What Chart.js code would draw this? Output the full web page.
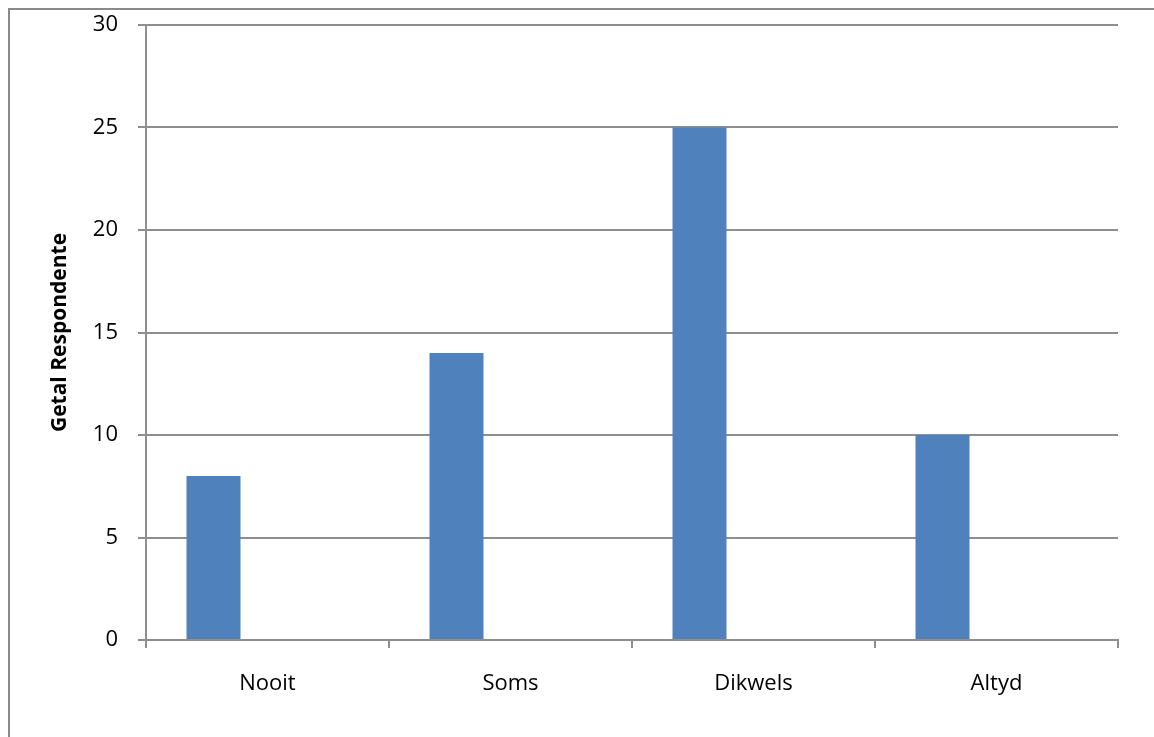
<!DOCTYPE html>
<html>
<head>
<meta charset="utf-8">
<script src="https://cdn.jsdelivr.net/npm/chart.js@4"></script>
<style>
    html, body { margin: 0; padding: 0; background: #fff; overflow: hidden; }
    #wrap { width: 1154px; height: 737px; position: relative; }
</style>
</head>
<body>
<div id="wrap"><canvas id="chart" width="1154" height="737"></canvas></div>
<script>
// Datos del gráfico
const categories = ['Nooit', 'Soms', 'Dikwels', 'Altyd'];
const respondents = [8, 14, 25, 10];
const emptySeries = [null, null, null, null];
const yTitle = 'Getal Respondente';

const gridColor = '#8e8e8e';
const fontFamily = '"Open Sans", "Liberation Sans", sans-serif';

// Marco exterior (solo se ven los bordes izquierdo y superior)
const framePlugin = {
    id: 'frame',
    beforeDraw(chart) {
        const ctx = chart.ctx;
        ctx.save();
        ctx.strokeStyle = '#8a8a8a';
        ctx.lineWidth = 2;
        ctx.strokeRect(9, 9, 1200, 800);
        ctx.restore();
    }
};

document.addEventListener('DOMContentLoaded', () => {
    const ctx = document.getElementById('chart').getContext('2d');

    new Chart(ctx, {
        type: 'bar',
        data: {
            labels: categories,
            datasets: [
                { data: respondents, backgroundColor: '#4f81bd', borderWidth: 0 },
                { data: emptySeries, backgroundColor: '#c0504d' },
                { data: emptySeries, backgroundColor: '#9bbb59' }
            ]
        },
        options: {
            responsive: false,
            animation: false,
            devicePixelRatio: 1,
            categoryPercentage: 3 / 4.5,
            barPercentage: 1,
            layout: { padding: { top: 25, right: 36, left: 0, bottom: 0 } },
            plugins: {
                legend: { display: false },
                tooltip: { enabled: false }
            },
            scales: {
                x: {
                    afterFit: scale => {
                        scale.height = 97;
                        scale.paddingLeft = 0;
                        scale.paddingRight = 0;
                    },
                    grid: {
                        drawOnChartArea: false,
                        color: gridColor,
                        lineWidth: 2,
                        tickLength: 8
                    },
                    border: { color: gridColor, width: 2 },
                    ticks: {
                        color: '#000',
                        padding: 23,
                        font: { family: fontFamily, size: 22 }
                    }
                },
                y: {
                    min: 0,
                    max: 30,
                    afterFit: scale => {
                        scale.width = 146;
                        scale.paddingTop = 0;
                        scale.paddingBottom = 0;
                    },
                    grid: {
                        color: gridColor,
                        lineWidth: 2,
                        tickLength: 8
                    },
                    border: { color: gridColor, width: 2 },
                    ticks: {
                        stepSize: 5,
                        color: '#000',
                        padding: 20,
                        font: { family: fontFamily, size: 22 }
                    },
                    title: {
                        display: true,
                        text: yTitle,
                        color: '#000',
                        padding: { top: 47, bottom: 0 },
                        font: { family: fontFamily, size: 21, weight: 'bold' }
                    }
                }
            }
        },
        plugins: [framePlugin]
    });
});
</script>
</body>
</html>
